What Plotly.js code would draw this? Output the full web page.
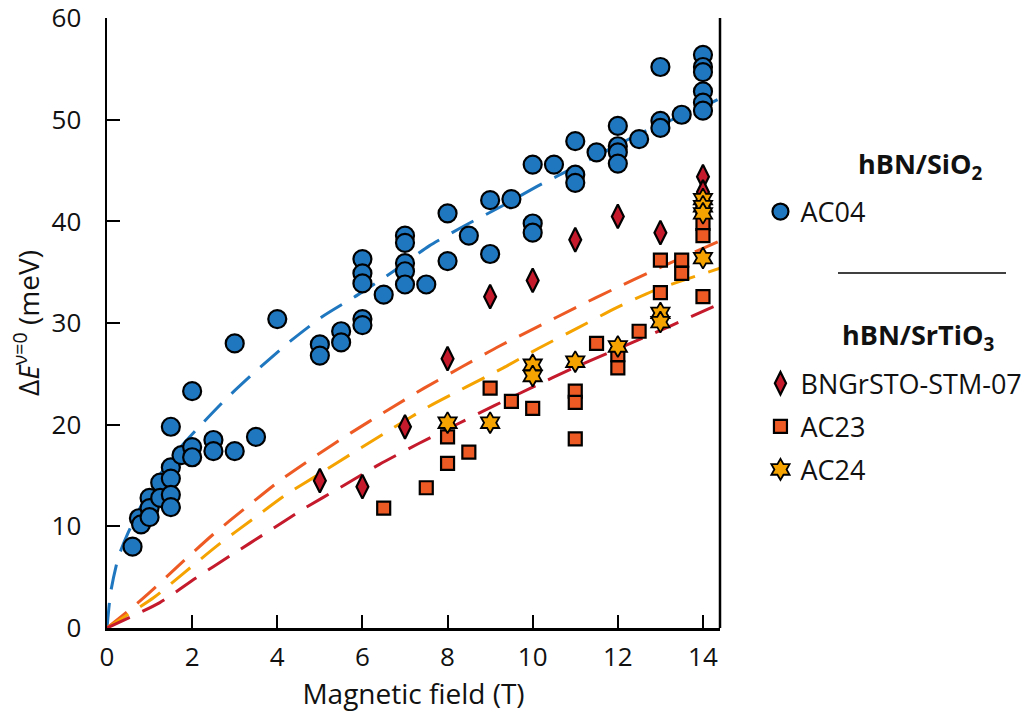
<!DOCTYPE html>
<html>
<head>
<meta charset="utf-8">
<script src="https://cdn.plot.ly/plotly-3.0.1.min.js"></script>
<style>html,body{margin:0;padding:0;background:#fff;}#chart{width:1036px;height:713px;}</style>
</head>
<body>
<div id="chart"></div>
<script>
// ---- Data ----
// hBN/SiO2 : AC04
const ac04B = [0.6,0.75,0.8,1,1,1,1.25,1.25,1.5,1.5,1.5,1.5,1.5,1.75,2,2,2,2.5,2.5,3,3,3.5,4,5,5,5.5,5.5,6,6,6,6,6,6.5,7,7,7,7,7,7.5,8,8,8.5,9,9,9.5,10,10,10,10.5,11,11,11,11.5,12,12,12,12,12.5,13,13,13,13.5,14,14,14,14,14,14];
const ac04E = [8.0,10.8,10.2,12.8,11.8,10.9,14.3,12.8,19.8,15.8,14.7,13.1,11.9,17.0,23.3,17.8,16.8,18.5,17.4,28.0,17.4,18.8,30.4,27.9,26.8,29.2,28.1,36.3,34.9,33.9,30.4,29.8,32.8,38.6,37.9,35.9,35.1,33.8,33.8,40.8,36.1,38.6,42.1,36.8,42.2,45.6,39.8,38.9,45.6,47.9,44.6,43.8,46.8,49.4,47.4,46.8,45.7,48.1,55.2,49.9,49.2,50.5,56.4,55.2,54.7,52.8,51.7,50.9];

// hBN/SrTiO3 : BNGrSTO-STM-07
const stm07B = [5,6,7,8,9,10,11,12,13,14,14];
const stm07E = [14.5,13.9,19.8,26.5,32.6,34.2,38.2,40.5,38.9,44.4,42.9];

// hBN/SrTiO3 : AC23
const ac23B = [6.5,7.5,8,8,8.5,9,9.5,10,11,11,11,11.5,12,12,12.5,13,13,13.5,13.5,14,14,14,14];
const ac23E = [11.8,13.8,18.8,16.2,17.3,23.6,22.3,21.6,23.3,22.2,18.6,28.0,26.9,25.6,29.2,36.2,33.0,36.2,34.9,41.0,39.8,38.6,32.6];

// hBN/SrTiO3 : AC24
const ac24B = [8,9,10,10,11,12,13,13,14,14,14,14];
const ac24E = [20.2,20.2,25.9,24.8,26.2,27.7,31.0,30.1,36.4,42.2,41.5,40.8];

// Fit curves (dashed)
const fitAC04B = [0,0.09,0.27,0.5,1.0,1.67,2.12,2.81,3.53,4.3,5.08,5.9,6.73,7.57,8.41,9.27,10.17,11.07,11.93,12.9,13.76,14.4];
const fitAC04E = [0,3.6,7.0,9.4,13.6,17.5,19.6,22.6,25.4,28.2,30.7,32.8,35.1,37.6,39.6,41.5,43.6,45.5,47.4,49.4,50.8,52.1];
const fitAC23B = [0,0.62,1.03,1.75,2.49,3.28,4.06,4.89,5.73,6.58,7.45,8.34,9.2,10.1,11.0,11.93,12.8,14.4];
const fitAC23E = [0,2.1,3.6,6.4,9.2,11.9,14.5,16.9,19.2,21.4,23.6,25.7,27.7,29.6,31.5,33.4,35.1,38.1];
const fitAC24B = [0,1.1,1.86,2.62,3.42,4.2,4.93,5.88,6.73,7.56,8.43,9.31,10.13,11.05,11.96,12.85,14.4];
const fitAC24E = [0,3.0,5.6,8.2,10.7,13.1,15.0,17.5,19.7,21.8,23.7,25.6,27.5,29.5,31.5,33.2,35.4];
const fitSTMB = [0,1.24,2.08,2.93,3.79,4.65,5.51,6.4,7.3,8.2,9.11,10.0,10.91,11.85,12.79,13.76,14.4];
const fitSTME = [0,2.5,4.9,7.2,9.5,11.8,13.9,16.1,18.1,20.0,21.9,23.7,25.5,27.2,28.9,30.7,31.9];

const xTicks = [0,2,4,6,8,10,12,14];
const yTicks = [0,10,20,30,40,50,60];

// ---- Styles ----
const FONT = 'Open Sans, Noto Sans, sans-serif';
const cBlue = '#1f77c0', cRed = '#c41a2b', cOrRed = '#ee5a24', cOrange = '#f5a300';
const dash = '25px,14px';

function fit(x, y, color) {
  return {x: x, y: y, mode: 'lines', type: 'scatter', showlegend: false, hoverinfo: 'skip',
    line: {color: color, width: 3, dash: dash, shape: 'spline', smoothing: 0.6}};
}

const traces = [
  fit(fitAC04B, fitAC04E, cBlue),
  fit(fitAC23B, fitAC23E, cOrRed),
  fit(fitAC24B, fitAC24E, cOrange),
  fit(fitSTMB, fitSTME, cRed),
  {x: ac04B, y: ac04E, name: 'AC04', mode: 'markers', type: 'scatter', legend: 'legend',
   marker: {symbol: 'circle', size: 18, color: cBlue, line: {color: '#000', width: 2.2}}},
  {x: stm07B, y: stm07E, name: 'BNGrSTO-STM-07', mode: 'markers', type: 'scatter', legend: 'legend2', legendgroup: 'a',
   marker: {symbol: 'diamond-tall', size: 17, color: cRed, line: {color: '#000', width: 2.2}}},
  {x: ac23B, y: ac23E, name: 'AC23', mode: 'markers', type: 'scatter', legend: 'legend2', legendgroup: 'b',
   marker: {symbol: 'square', size: 13, color: cOrRed, line: {color: '#000', width: 2.2}}},
  {x: ac24B, y: ac24E, name: 'AC24', mode: 'markers', type: 'scatter', legend: 'legend2', legendgroup: 'c',
   marker: {symbol: 'hexagram', size: 16, color: cOrange, line: {color: '#000', width: 1.8}}}
];

const axisCommon = {
  showline: true, linecolor: '#000', linewidth: 2.5, ticks: 'inside', ticklen: 13, tickwidth: 2,
  tickcolor: '#000', showgrid: false, zeroline: false, ticklabeloverflow: 'allow',
  tickfont: {family: FONT, size: 26, color: '#111'}
};

const layout = {
  width: 1036, height: 713,
  margin: {l: 107, r: 316, t: 18, b: 85, autoexpand: false},
  paper_bgcolor: '#fff', plot_bgcolor: '#fff',
  font: {family: FONT, color: '#111'},
  xaxis: Object.assign({}, axisCommon, {range: [0, 14.4], tickvals: xTicks, ticklabelstandoff: 4,
    title: {text: 'Magnetic field (T)', font: {family: FONT, size: 28}, standoff: 6}}),
  yaxis: Object.assign({}, axisCommon, {range: [0, 60.02], tickvals: yTicks, ticklabelstandoff: 18,
    title: {text: 'Δ<i>E</i><sup>ν=0</sup> (meV)', font: {family: FONT, size: 28}, standoff: 4}}),
  legend: {x: 1.066, xanchor: 'left', y: 0.682, yanchor: 'middle', bgcolor: 'rgba(0,0,0,0)',
    font: {family: FONT, size: 27, color: '#111'}, itemclick: false},
  legend2: {x: 1.066, xanchor: 'left', y: 0.33, yanchor: 'middle', bgcolor: 'rgba(0,0,0,0)',
    font: {family: FONT, size: 27, color: '#111'}, tracegroupgap: 5, itemclick: false},
  shapes: [
    {type: 'line', xref: 'paper', yref: 'paper', x0: 1, x1: 1, y0: 0, y1: 1, line: {color: '#000', width: 2.5}},
    {type: 'line', xref: 'paper', yref: 'paper', x0: (838-107)/613, x1: (1006-107)/613, y0: (628-273)/610, y1: (628-273)/610, line: {color: '#000', width: 1.5}}
  ],
  annotations: [
    {xref: 'paper', yref: 'paper', x: (920-107)/613, y: (628-165)/610, showarrow: false, xanchor: 'center', yanchor: 'middle',
     text: '<b>hBN/SiO<sub>2</sub></b>', font: {family: FONT, size: 27, color: '#111'}},
    {xref: 'paper', yref: 'paper', x: (918-107)/613, y: (628-337)/610, showarrow: false, xanchor: 'center', yanchor: 'middle',
     text: '<b>hBN/SrTiO<sub>3</sub></b>', font: {family: FONT, size: 27, color: '#111'}}
  ]
};

Plotly.newPlot('chart', traces, layout, {staticPlot: true, displayModeBar: false});
</script>
</body>
</html>
